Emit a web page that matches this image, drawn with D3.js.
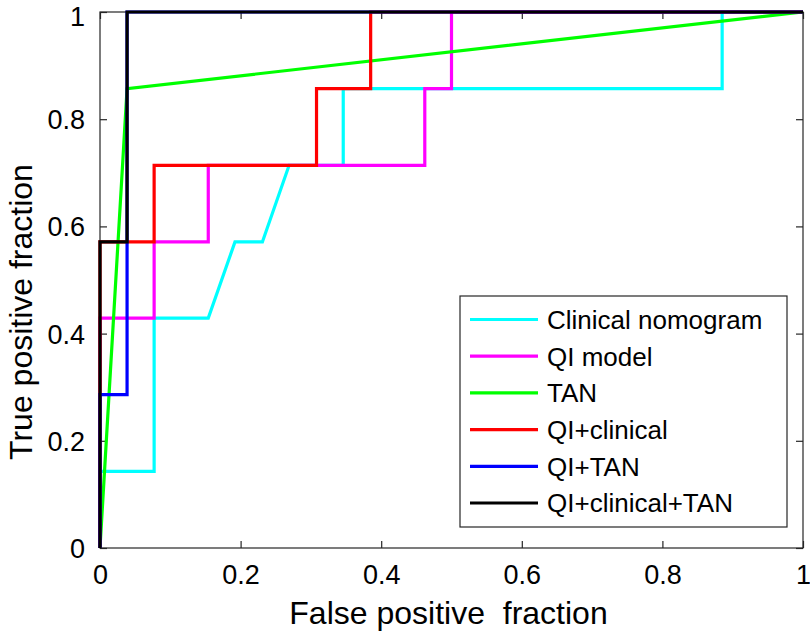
<!DOCTYPE html>
<html><head><meta charset="utf-8">
<script src="https://cdn.jsdelivr.net/npm/d3@7"></script>
<style>body{margin:0;background:#fff}svg{display:block}text{font-family:"Liberation Sans",Arial,Helvetica,sans-serif;fill:#000}</style>
</head><body>
<svg id="c" width="810" height="640"></svg>
<script>
const seriesNames = ["Clinical nomogram","QI model","TAN","QI+clinical","QI+TAN","QI+clinical+TAN"];
const seriesColors = ["#00ffff","#ff00ff","#00ff00","#ff0000","#0000ff","#000000"];
const clinicalFPR = [0,0,0.077,0.077,0.154,0.192,0.231,0.269,0.346,0.346,0.885,0.885,1];
const clinicalTPR = [0,0.143,0.143,0.429,0.429,0.571,0.571,0.714,0.714,0.857,0.857,1,1];
const qiFPR = [0,0,0.077,0.077,0.154,0.154,0.462,0.462,0.5,0.5,1];
const qiTPR = [0,0.429,0.429,0.571,0.571,0.714,0.714,0.857,0.857,1,1];
const tanFPR = [0,0.0385,1];
const tanTPR = [0,0.857,1];
const qiClinFPR = [0,0,0.077,0.077,0.308,0.308,0.385,0.385,1];
const qiClinTPR = [0,0.571,0.571,0.714,0.714,0.857,0.857,1,1];
const qiTanFPR = [0,0,0.0385,0.0385,0.0385,1];
const qiTanTPR = [0,0.286,0.286,0.571,1,1];
const allFPR = [0,0,0.0385,0.0385,1];
const allTPR = [0,0.571,0.571,1,1];
const tickValues = [0,0.2,0.4,0.6,0.8,1];
const tickLabels = ["0","0.2","0.4","0.6","0.8","1"];
const xTitle = "False positive  fraction";
const yTitle = "True positive fraction";

const seriesFPR = [clinicalFPR,qiFPR,tanFPR,qiClinFPR,qiTanFPR,allFPR];
const seriesTPR = [clinicalTPR,qiTPR,tanTPR,qiClinTPR,qiTanTPR,allTPR];

const L=100,R=803,T=12,B=548;
const svg=d3.select("#c");
const x=d3.scaleLinear().domain([0,1]).range([L,R]);
const y=d3.scaleLinear().domain([0,1]).range([B,T]);
const axisColor="#262626";

const g=svg.append("g");
g.append("rect").attr("x",L).attr("y",T).attr("width",R-L).attr("height",B-T)
 .attr("fill","#fff").attr("stroke",axisColor).attr("stroke-width",1.2);

const tl=7;
const xb=svg.append("g").attr("transform",`translate(0,${B})`).call(d3.axisBottom(x).tickValues(tickValues).tickSize(-tl).tickFormat((d,i)=>tickLabels[i]).tickPadding(tl+10));
const xt=svg.append("g").attr("transform",`translate(0,${T})`).call(d3.axisTop(x).tickValues(tickValues).tickSize(-tl).tickFormat(""));
const yl=svg.append("g").attr("transform",`translate(${L},0)`).call(d3.axisLeft(y).tickValues(tickValues).tickSize(-tl).tickFormat((d,i)=>tickLabels[i]).tickPadding(tl+8));
const yr=svg.append("g").attr("transform",`translate(${R},0)`).call(d3.axisRight(y).tickValues(tickValues).tickSize(-tl).tickFormat(""));
[xb,xt,yl,yr].forEach(a=>{a.select(".domain").remove();a.selectAll("line").attr("stroke",axisColor).attr("stroke-width",1.2);
 a.selectAll("text").attr("font-size",27).attr("font-family",'"Liberation Sans",Arial,sans-serif').attr("fill","#000");});
xb.selectAll("text").attr("dy","0.72em");
yl.selectAll("text").attr("dy",d=>d===1?"0.5em":"0.35em");

const line=d3.line().x(d=>x(d[0])).y(d=>y(d[1]));
seriesNames.forEach((n,i)=>{
  const pts=seriesFPR[i].map((v,j)=>[v,seriesTPR[i][j]]);
  svg.append("path").attr("d",line(pts)).attr("fill","none").attr("stroke",seriesColors[i])
    .attr("stroke-width",3.2).attr("stroke-linejoin","miter");
});

svg.append("text").attr("x",(L+R)/2-3).attr("y",624).attr("text-anchor","middle").attr("font-size",32).attr("xml:space","preserve").style("white-space","pre").text(xTitle);
svg.append("text").attr("transform",`translate(32,${(T+B)/2+32}) rotate(-90)`).attr("text-anchor","middle").attr("font-size",32).text(yTitle);

const lg=svg.append("g");
lg.append("rect").attr("x",460).attr("y",296).attr("width",327).attr("height",231)
  .attr("fill","#fff").attr("stroke",axisColor).attr("stroke-width",1.2);
seriesNames.forEach((n,i)=>{
  const yy=319.5+i*36.7;
  lg.append("line").attr("x1",470).attr("x2",538).attr("y1",yy).attr("y2",yy).attr("stroke",seriesColors[i]).attr("stroke-width",3.2);
  lg.append("text").attr("x",547).attr("y",yy).attr("dy","0.36em").attr("font-size",26).text(n);
});
</script>
</body></html>
